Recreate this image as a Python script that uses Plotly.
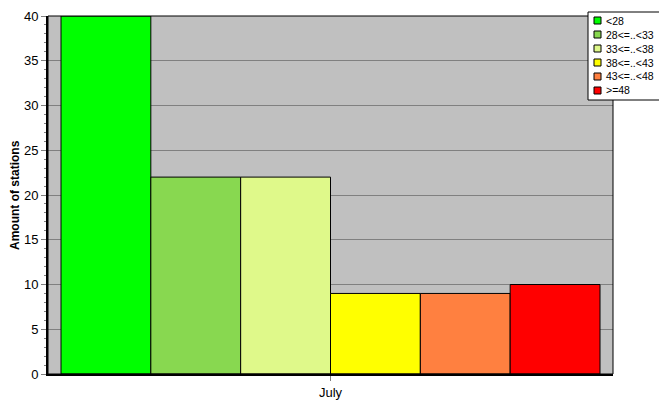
import plotly.graph_objects as go

categories = ["July"]
series_names = ["<28", "28<=..<33", "33<=..<38", "38<=..<43", "43<=..<48", ">=48"]
series_values = [40, 22, 22, 9, 9, 10]
colors = ["#00FF00", "#88D850", "#DFF98A", "#FFFF00", "#FF8040", "#FF0000"]
y_title = "Amount of stations"

# page body has an 8px default margin; compensate so plot sits where the reference has it
W, H = 659, 407
PL, PT, PR, PB = 40, 8, 605, 366   # plot area in figure pixels
pw, ph = PR - PL, PB - PT

def px(x):  # absolute page x -> paper
    return (x - 8 - PL) / pw

def py(y):  # absolute page y -> paper
    return (PB - (y - 8)) / ph

fig = go.Figure()
for name, val, col in zip(series_names, series_values, colors):
    fig.add_trace(go.Bar(x=categories, y=[val], name=name, showlegend=False,
                         marker=dict(color=col, line=dict(color="black", width=1))))

fig.update_layout(
    width=W, height=H,
    margin=dict(l=PL, r=W - PR, t=PT, b=H - PB, autoexpand=False),
    paper_bgcolor="white", plot_bgcolor="#C0C0C0",
    barmode="group", bargap=0.046, bargroupgap=0,
    font=dict(family="Liberation Sans, Arial, sans-serif", size=12, color="black"),
    showlegend=False,
    xaxis=dict(showgrid=False, showline=True, linecolor="black", linewidth=2,
               ticks="outside", tickcolor="gray", ticklen=5, tickfont=dict(size=13)),
    yaxis=dict(range=[0, 40], dtick=5, showgrid=True, gridcolor="#808080", gridwidth=1,
               showline=True, linecolor="black", linewidth=2,
               ticks="outside", tickcolor="gray", ticklen=5, tickfont=dict(size=13),
               minor=dict(dtick=1, ticks="outside", ticklen=2, tickcolor="gray", showgrid=False),
               zeroline=False),
)
fig.add_annotation(xref="paper", yref="paper", x=px(15), y=0.5, textangle=-90,
                   xanchor="center", yanchor="middle", showarrow=False,
                   text="<b>" + y_title + "</b>", font=dict(size=12, color="black"))
fig.add_shape(type="rect", xref="paper", yref="paper", x0=0, y0=0, x1=1, y1=1,
              line=dict(color="black", width=1), layer="above")

# custom legend box
fig.add_shape(type="rect", xref="paper", yref="paper",
              x0=px(588), x1=px(664), y0=py(100), y1=py(12),
              fillcolor="white", line=dict(color="black", width=1), layer="above")
for i, (name, col) in enumerate(zip(series_names, colors)):
    cy = 20.5 + i * 14
    fig.add_shape(type="rect", xref="paper", yref="paper",
                  x0=px(594), x1=px(601), y0=py(cy + 3.5), y1=py(cy - 3.5),
                  fillcolor=col, line=dict(color="black", width=1), layer="above")
    fig.add_annotation(xref="paper", yref="paper", x=px(604), y=py(cy),
                       xanchor="left", yanchor="middle", text=name, showarrow=False,
                       font=dict(size=10.5, color="black"))

fig.write_html("out.html")
